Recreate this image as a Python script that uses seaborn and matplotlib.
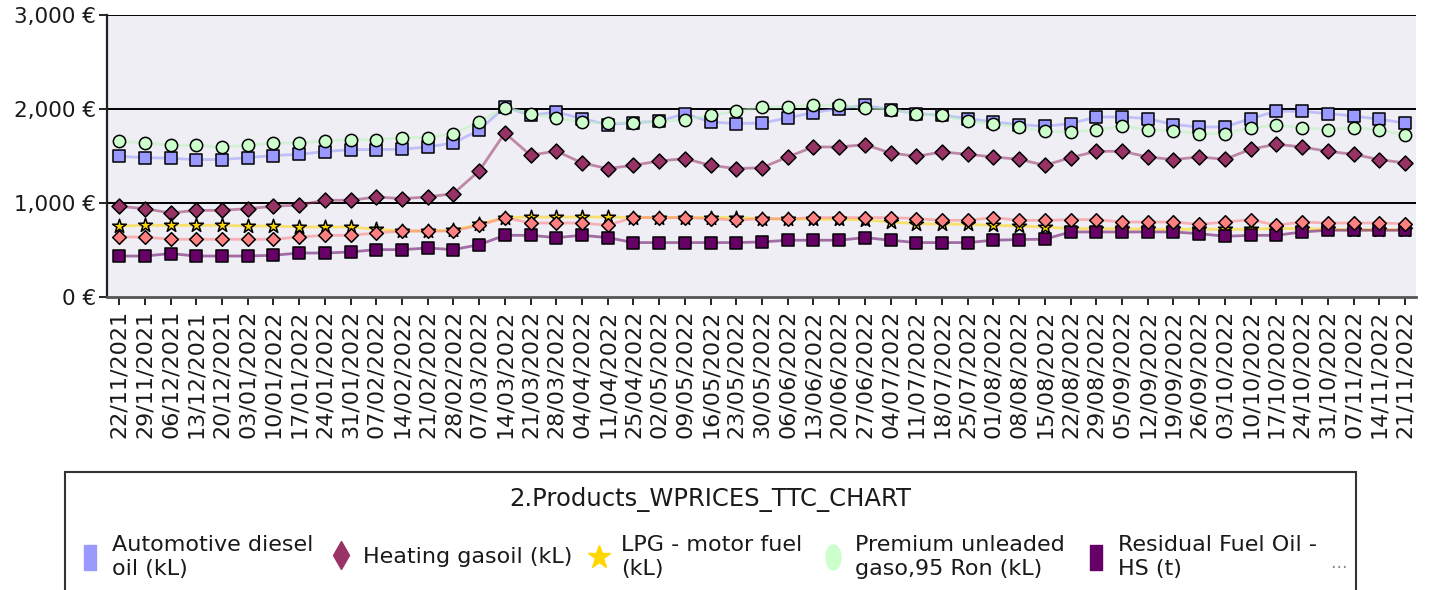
import matplotlib
matplotlib.use("Agg")
import matplotlib.pyplot as plt
from matplotlib.lines import Line2D
from matplotlib.patches import Rectangle
from matplotlib.ticker import FuncFormatter, FixedLocator
import seaborn as sns
import pandas as pd
import numpy as np

# weekly price dates
dates = ["22/11/2021", "29/11/2021", "06/12/2021", "13/12/2021", "20/12/2021",
         "03/01/2022", "10/01/2022", "17/01/2022", "24/01/2022", "31/01/2022",
         "07/02/2022", "14/02/2022", "21/02/2022", "28/02/2022", "07/03/2022",
         "14/03/2022", "21/03/2022", "28/03/2022", "04/04/2022", "11/04/2022",
         "25/04/2022", "02/05/2022", "09/05/2022", "16/05/2022", "23/05/2022",
         "30/05/2022", "06/06/2022", "13/06/2022", "20/06/2022", "27/06/2022",
         "04/07/2022", "11/07/2022", "18/07/2022", "25/07/2022", "01/08/2022",
         "08/08/2022", "15/08/2022", "22/08/2022", "29/08/2022", "05/09/2022",
         "12/09/2022", "19/09/2022", "26/09/2022", "03/10/2022", "10/10/2022",
         "17/10/2022", "24/10/2022", "31/10/2022", "07/11/2022", "14/11/2022",
         "21/11/2022"]

diesel = [1497, 1483, 1476, 1462, 1462, 1483, 1505, 1518, 1547, 1568,
          1568, 1572, 1596, 1639, 1774, 2022, 1933, 1968, 1898, 1834,
          1855, 1869, 1951, 1862, 1845, 1851, 1905, 1962, 2004, 2040,
          1994, 1951, 1933, 1898, 1862, 1834, 1816, 1845, 1915, 1915,
          1898, 1834, 1809, 1809, 1898, 1976, 1976, 1951, 1926, 1891, 1851]

heating = [965, 940, 894, 922, 922, 940, 965, 979, 1029, 1029,
           1064, 1047, 1064, 1100, 1341, 1745, 1508, 1553, 1426, 1366,
           1401, 1447, 1472, 1401, 1366, 1376, 1490, 1596, 1596, 1621,
           1532, 1497, 1543, 1518, 1490, 1465, 1401, 1483, 1550, 1550,
           1490, 1462, 1490, 1465, 1572, 1625, 1596, 1550, 1518, 1462, 1426]

lpg = [755, 763, 763, 763, 763, 755, 755, 745, 745, 745,
       720, 702, 702, 710, 773, 845, 851, 851, 851, 851,
       845, 845, 845, 845, 845, 834, 830, 827, 827, 820,
       798, 780, 776, 772, 763, 755, 745, 727, 727, 727,
       720, 720, 720, 720, 720, 730, 727, 720, 715, 715, 715]

premium = [1657, 1639, 1614, 1614, 1596, 1614, 1639, 1639, 1660, 1675,
           1675, 1696, 1696, 1738, 1862, 2015, 1951, 1905, 1862, 1851,
           1855, 1869, 1887, 1933, 1976, 2022, 2022, 2040, 2040, 2011,
           1994, 1951, 1933, 1869, 1845, 1809, 1763, 1756, 1781, 1816,
           1781, 1767, 1738, 1738, 1802, 1827, 1802, 1781, 1802, 1781, 1720]

residual_hs = [436, 436, 462, 436, 436, 436, 444, 468, 468, 479,
               504, 504, 521, 504, 557, 656, 656, 632, 656, 632,
               579, 579, 579, 579, 579, 586, 604, 604, 604, 632,
               604, 579, 579, 579, 604, 611, 615, 692, 692, 692,
               692, 692, 674, 646, 656, 656, 692, 710, 710, 710, 710]

residual_ls = [638, 638, 614, 614, 614, 614, 614, 638, 656, 656,
               681, 702, 702, 702, 763, 845, 787, 787, 787, 763,
               845, 845, 845, 834, 816, 834, 830, 845, 845, 845,
               845, 834, 816, 816, 845, 816, 816, 823, 823, 798,
               798, 798, 773, 798, 823, 763, 798, 787, 787, 787, 780]

series_names = ["Automotive diesel oil (kL)", "Heating gasoil (kL)",
                "LPG - motor fuel (kL)", "Premium unleaded gaso,95 Ron (kL)",
                "Residual Fuel Oil - HS (t)", "Residual Fuel Oil - LS (t)"]
legend_labels = ["Automotive diesel\noil (kL)", "Heating gasoil (kL)",
                 "LPG - motor fuel\n(kL)", "Premium unleaded\ngaso,95 Ron (kL)",
                 "Residual Fuel Oil -\nHS (t)"]
series_values = [diesel, heating, lpg, premium, residual_hs, residual_ls]

colors = ["#9999FF", "#993366", "#FFD700", "#CCFFCC", "#660066", "#FF8080"]
line_colors = ["#9999FF", "#993366", "#FFD500", "#BBF5BB", "#660066", "#FF8080"]
markers = ["s", "D", "*", "o", "s", "D"]
sizes = [82, 58, 110, 78, 85, 48]

rows = []
for name, vals in zip(series_names, series_values):
    for i, v in enumerate(vals):
        rows.append({"x": i, "date": dates[i], "series": name, "price": v})
df = pd.DataFrame(rows)

sns.set_style("white")
plt.rcParams["font.family"] = ["DejaVu Sans"]
plt.rcParams["text.color"] = "#1a1a1a"
plt.rcParams["xtick.color"] = "#1a1a1a"
plt.rcParams["ytick.color"] = "#1a1a1a"

fig = plt.figure(figsize=(14.3, 5.9), dpi=100)
ax = fig.add_axes([107 / 1430, 1 - 297 / 590, (1416 - 107) / 1430, (297 - 15) / 590])
ax.set_facecolor("#EFEEF5")

for name, lc, fc, mk, sz in zip(series_names, line_colors, colors, markers, sizes):
    sub = df[df["series"] == name]
    sns.lineplot(data=sub, x="x", y="price", color=lc, linewidth=2.0,
                 alpha=0.55, ax=ax, legend=False)
    sns.scatterplot(data=sub, x="x", y="price", marker=mk, s=sz, color=fc,
                    edgecolor="black", linewidth=1.1, ax=ax, legend=False,
                    zorder=3)

ax.set_ylim(0, 3000)
ax.set_xlim(-0.47, len(dates) - 1 + 0.43)
ax.yaxis.set_major_locator(FixedLocator([0, 1000, 2000, 3000]))
ax.yaxis.set_major_formatter(FuncFormatter(lambda v, p: f"{v:,.0f} €"))
ax.set_xticks(range(len(dates)))
ax.set_xticklabels(dates, rotation=90, fontsize=16)
ax.tick_params(axis="y", labelsize=15.5, length=6, width=1.2, color="black",
               direction="out", left=True, pad=2)
ax.tick_params(axis="x", length=6, width=1.2, color="black", direction="out",
               bottom=True, pad=3)
ax.set_xlabel("")
ax.set_ylabel("")

for v in [1000, 2000, 3000]:
    ax.axhline(v, color="black", linewidth=1.4, zorder=1)

for side in ["top", "right"]:
    ax.spines[side].set_visible(False)
ax.spines["left"].set_color("#222222")
ax.spines["left"].set_linewidth(1.6)
ax.spines["bottom"].set_color("#555555")
ax.spines["bottom"].set_linewidth(2)

# legend box
box = Rectangle((65 / 1430, -0.05), (1356 - 65) / 1430, 0.05 + 1 - 472 / 590,
                transform=fig.transFigure, facecolor="white",
                edgecolor="#333333", linewidth=1.5)
fig.add_artist(box)
fig.text((65 + 1356) / 2 / 1430, 1 - 500 / 590, "2.Products_WPRICES_TTC_CHART",
         ha="center", va="center", fontsize=17.5)

rect_marker = [(-0.45, -1), (0.45, -1), (0.45, 1), (-0.45, 1), (-0.45, -1)]
t = np.linspace(0, 2 * np.pi, 40)
ellipse_marker = list(zip(0.6 * np.cos(t), np.sin(t)))
legend_markers = [rect_marker, "d", "*", ellipse_marker, rect_marker]
legend_sizes = [18, 14, 17, 18, 18]
legend_x = [81, 332, 590, 824, 1087]
for lx, lab, fc, mk, ms in zip(legend_x, legend_labels, colors, legend_markers, legend_sizes):
    h = Line2D([], [], linestyle="none", marker=mk, markersize=ms,
               markerfacecolor=fc, markeredgecolor=fc)
    fig.legend(handles=[h], labels=[lab], loc="center left",
               bbox_to_anchor=(lx / 1430, 1 - 557 / 590), frameon=False,
               handlelength=0.8, handletextpad=0.6, fontsize=16,
               labelspacing=0.1, borderpad=0, borderaxespad=0)
fig.text(1338 / 1430, 1 - 563 / 590, "…", fontsize=12, color="#888888",
         ha="center", va="center")

fig.savefig("out.png", dpi=100)
